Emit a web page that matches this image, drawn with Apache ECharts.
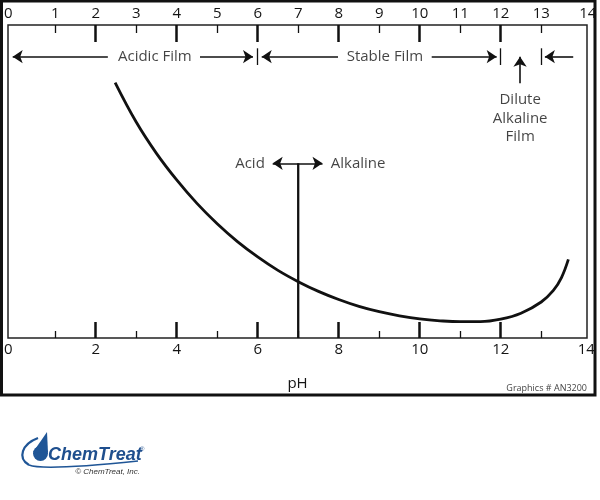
<!DOCTYPE html>
<html><head><meta charset="utf-8">
<script src="https://cdn.jsdelivr.net/npm/echarts@6/dist/echarts.min.js"></script>
<style>html,body{margin:0;padding:0;background:#fff}#c{width:600px;height:500px}</style>
</head><body><div id="c"></div>
<script>
// ---- data ----
const curvePH    = [2.48, 3.0, 3.5, 4.0, 4.5, 5.0, 5.5, 6.0, 6.5, 7.0, 7.5, 8.0, 8.5, 9.0, 9.5, 10.0, 10.5, 11.0, 11.5, 12.0, 12.5, 13.0, 13.3, 13.5, 13.67];
const curveValue = [81.6, 69.0, 59.0, 50.5, 43.0, 36.5, 30.8, 25.9, 21.6, 18.0, 14.9, 12.3, 10.1, 8.4, 7.1, 6.1, 5.5, 5.2, 5.2, 6.0, 7.9, 11.5, 15.2, 19.3, 25.1];
const majorTicks   = [2, 4, 6, 8, 10, 12];
const minorTicks   = [1, 3, 5, 7, 9, 11, 13];
const topLabels    = [0,1,2,3,4,5,6,7,8,9,10,11,12,13,14];
const bottomLabels = [0,2,4,6,8,10,12,14];
const zoneBounds   = [6, 12, 13];
const zoneNames    = ['Acidic Film', 'Stable Film', 'Dilute\nAlkaline\nFilm'];
const zoneLabelPH  = [3.46, 9.14, 12.48];
const neutralPH    = 7;
const sideNames    = ['Acid', 'Alkaline'];
const sideLabelPH  = [5.81, 8.48];

const FONT = '"Open Sans", sans-serif';
const XMIN = -0.165, XMAX = 14.13;
const ROW = 89.87, BAR_LO = 87.22, BAR_HI = 92.56, MID = 55.8;
const TXT = '#141414';

function labelFmt(shiftTop) {
  return function (v) {
    if (v === 0) return '{a|0}';
    if (v === 14) return shiftTop ? '{c|14}' : '{b|14}';
    return '{n|' + v + '}';
  };
}
const baseTxt = {fontSize: 15, fontFamily: FONT, color: TXT};
const rich = {
  n: Object.assign({}, baseTxt),
  a: Object.assign({padding: [0, 13, 0, 0]}, baseTxt),
  b: Object.assign({padding: [0, 0, 0, 9]}, baseTxt),
  c: Object.assign({padding: [0, 0, 0, 12]}, baseTxt)
};

function mkAxis(pos, ticks, len, w, labels, extra) {
  return Object.assign({
    type: 'value', position: pos, min: XMIN, max: XMAX,
    axisLine: {show: false},
    splitLine: {show: false},
    axisTick: {show: true, inside: true, customValues: ticks, length: len, lineStyle: {color: '#111', width: w}},
    axisLabel: labels ? {show: true, customValues: labels, formatter: labelFmt(pos === 'top'), rich: rich, margin: 4} : {show: false}
  }, extra || {});
}

const arrowSegs = [
  [[-0.049, ROW], [2.30, ROW], 'start'],
  [[4.575, ROW], [5.884, ROW], 'end'],
  [[6.099, ROW], [7.983, ROW], 'start'],
  [[10.296, ROW], [11.90, ROW], 'end'],
  [[13.09, ROW], [13.79, ROW], 'start'],
  [[12.477, ROW], [12.477, 81.4], 'start'],
  [[6.37, MID], [7.60, MID], 'both']
];
const mlData = arrowSegs.map(s => [
  {coord: s[0], symbol: (s[2] === 'start' || s[2] === 'both') ? 'arrow' : 'none'},
  {coord: s[1], symbol: (s[2] === 'end' || s[2] === 'both') ? 'arrow' : 'none'}
]).concat(zoneBounds.map(b => [
  {coord: [b, BAR_LO], symbol: 'none', lineStyle: {width: 1.3}},
  {coord: [b, BAR_HI], symbol: 'none'}
]));

const textData = zoneNames.map((n, i) => ({name: n, value: [zoneLabelPH[i], i === 2 ? 70.06 : ROW]}))
  .concat(sideNames.map((n, i) => ({name: n, value: [sideLabelPH[i], MID]})));

const chart = echarts.init(document.getElementById('c'), null, {renderer: 'canvas'});
chart.setOption({
  animation: false,
  backgroundColor: '#fff',
  grid: {left: 8, right: 13, top: 25, bottom: 162, show: true, borderColor: '#222', borderWidth: 1.5, backgroundColor: 'transparent'},
  xAxis: [
    mkAxis('bottom', majorTicks, 16, 2.5, bottomLabels, {name: 'pH', nameLocation: 'middle', nameGap: 38, nameTextStyle: {fontSize: 15, fontFamily: FONT, color: TXT}}),
    mkAxis('bottom', minorTicks, 7, 1.3, null),
    mkAxis('top', majorTicks, 17, 2.5, topLabels),
    mkAxis('top', minorTicks, 8, 1.3, null)
  ],
  yAxis: {type: 'value', min: 0, max: 100, show: false},
  series: [
    {
      type: 'line', smooth: 0.4, symbol: 'none', xAxisIndex: 0,
      data: curvePH.map((p, i) => [p, curveValue[i]]),
      lineStyle: {color: '#111', width: 2.8}
    },
    {
      type: 'line', symbol: 'none', xAxisIndex: 0,
      data: [[neutralPH, MID], [neutralPH, 0]],
      lineStyle: {color: '#111', width: 2.3},
      markLine: {
        silent: true, symbolSize: 10, animation: false,
        label: {show: false},
        lineStyle: {color: '#111', width: 1.6, type: 'solid'},
        data: mlData
      }
    },
    {
      type: 'scatter', xAxisIndex: 0, symbolSize: 0, silent: true,
      data: textData,
      label: {show: true, position: 'inside', formatter: '{b}', fontSize: 15, lineHeight: 18.5, fontFamily: FONT, color: TXT, align: 'center'}
    }
  ],
  graphic: [
    {type: 'rect', silent: true, shape: {x: 1.5, y: 1, width: 593.5, height: 394}, style: {fill: 'none', stroke: '#111', lineWidth: 3}},
    {type: 'text', silent: true, style: {x: 587, y: 388, text: 'Graphics # AN3200', font: '9px "Open Sans", sans-serif', fill: '#444', textAlign: 'right', textVerticalAlign: 'middle'}},
    {type: 'bezierCurve', silent: true, shape: {x1: 38, y1: 438, cpx1: 22, cpy1: 444, cpx2: 17, cpy2: 458, x2: 29, y2: 465}, style: {fill: 'none', stroke: '#1f5596', lineWidth: 2.2}},
    {type: 'bezierCurve', silent: true, shape: {x1: 29, y1: 465, cpx1: 41, cpy1: 470, cpx2: 90, cpy2: 466, x2: 138, y2: 461}, style: {fill: 'none', stroke: '#1f5596', lineWidth: 1.6}},
    {type: 'circle', silent: true, shape: {cx: 40.5, cy: 453.5, r: 7.5}, style: {fill: '#1f5596'}},
    {type: 'polygon', silent: true, shape: {points: [[47, 432], [33.2, 452], [48, 452.5]]}, style: {fill: '#1f5596'}},
    {type: 'text', silent: true, style: {x: 48, y: 455, text: 'ChemTreat', font: 'italic bold 18px "Liberation Sans", Arial, sans-serif', fill: '#1f4f8e', textAlign: 'left', textVerticalAlign: 'middle'}},
    {type: 'text', silent: true, style: {x: 140, y: 449, text: '®', font: '6px "Liberation Sans", sans-serif', fill: '#1f4f8e', textAlign: 'left', textVerticalAlign: 'middle'}},
    {type: 'text', silent: true, style: {x: 140, y: 472, text: '© ChemTreat, Inc.', font: 'italic 8px "Liberation Sans", sans-serif', fill: '#333', textAlign: 'right', textVerticalAlign: 'middle'}}
  ]
});
</script></body></html>
